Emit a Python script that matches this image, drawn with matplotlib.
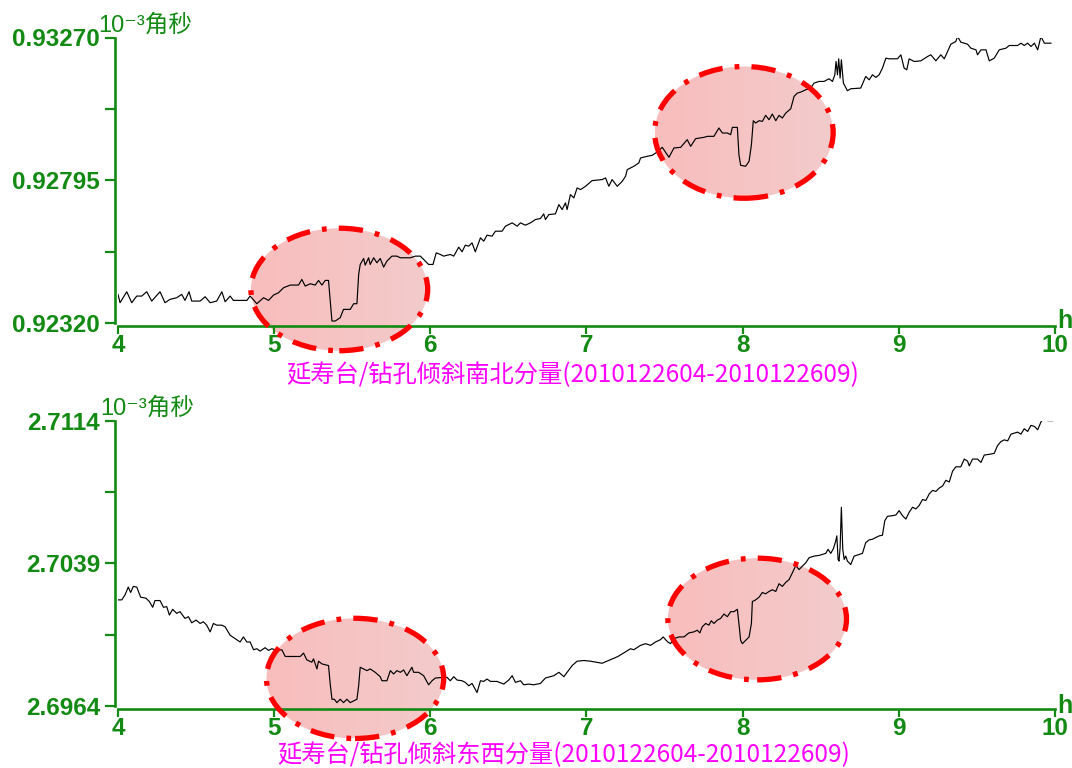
import matplotlib
matplotlib.use("Agg")
import matplotlib.pyplot as plt
import numpy as np
from matplotlib.patches import Ellipse

GREEN = "#138a13"
MAGENTA = "#ff00ff"
NUM_FONT = ["Liberation Sans", "DejaVu Sans", "Noto Sans CJK SC"]
CJK_FONT = ["Noto Sans CJK SC", "DejaVu Sans"]

# --- borehole tilt, north-south component (10^-3 arc-second) ---
ns_hours = [
    4.000, 4.013, 4.056, 4.088, 4.120, 4.152, 4.184, 4.216, 4.269, 4.301,
    4.333, 4.376, 4.408, 4.429, 4.455, 4.472, 4.526, 4.558, 4.590, 4.632,
    4.665, 4.686, 4.718, 4.739, 4.825, 4.846, 4.889, 4.932, 4.964, 4.996,
    5.028, 5.060, 5.103, 5.156, 5.177, 5.199, 5.231, 5.263, 5.284, 5.306,
    5.327, 5.348, 5.370, 5.391, 5.423, 5.444, 5.487, 5.509, 5.530, 5.541,
    5.551, 5.573, 5.583, 5.605, 5.615, 5.637, 5.658, 5.679, 5.701, 5.722,
    5.754, 5.786, 5.808, 5.872, 5.904, 5.936, 5.968, 5.989, 6.017, 6.038,
    6.064, 6.085, 6.128, 6.150, 6.182, 6.203, 6.224, 6.246, 6.267, 6.288,
    6.321, 6.342, 6.363, 6.395, 6.417, 6.459, 6.481, 6.524, 6.556, 6.577,
    6.609, 6.641, 6.673, 6.705, 6.726, 6.737, 6.759, 6.801, 6.823, 6.844,
    6.865, 6.876, 6.897, 6.919, 6.940,
    6.962, 6.994, 7.036, 7.100, 7.122, 7.143, 7.164, 7.197, 7.229, 7.250,
    7.261, 7.303, 7.335, 7.346, 7.389, 7.421, 7.453, 7.485, 7.528, 7.560,
    7.603, 7.645, 7.667, 7.699, 7.752, 7.774, 7.816, 7.848, 7.870, 7.902,
    7.923, 7.934, 7.966, 7.976, 7.987, 8.019, 8.041, 8.056, 8.068, 8.083,
    8.105, 8.126, 8.147, 8.169, 8.190, 8.212, 8.233, 8.254, 8.276, 8.308,
    8.329, 8.350, 8.372, 8.404, 8.436, 8.457, 8.489, 8.521, 8.553, 8.575,
    8.590, 8.598, 8.607, 8.615, 8.624, 8.632, 8.645, 8.671, 8.692, 8.756,
    8.788, 8.810, 8.831, 8.853, 8.874, 8.895, 8.917, 8.938, 8.991, 9.013,
    9.034, 9.051, 9.066, 9.098, 9.141, 9.184, 9.205, 9.237, 9.269, 9.291,
    9.312, 9.333, 9.365, 9.376, 9.397, 9.440, 9.461, 9.494, 9.504, 9.526,
    9.558, 9.579, 9.611, 9.643, 9.686, 9.707, 9.761, 9.782, 9.803, 9.825,
    9.846, 9.868, 9.889, 9.910, 9.932, 9.974,
]
ns_values = [
    0.924152, 0.923875, 0.924240, 0.923875, 0.924096, 0.924096, 0.924240, 0.923930, 0.924240, 0.923875,
    0.923986, 0.924041, 0.924152, 0.923952, 0.924240, 0.923930, 0.923930, 0.924074, 0.923875, 0.923930,
    0.924240, 0.923908, 0.924096, 0.923952, 0.923952, 0.924096, 0.923842, 0.924041, 0.923952, 0.924130,
    0.924207, 0.924373, 0.924462, 0.924462, 0.924650, 0.924429, 0.924506, 0.924462, 0.924617, 0.924462,
    0.924617, 0.924617, 0.923266, 0.923266, 0.923377, 0.923653, 0.923653, 0.923842, 0.923842, 0.924816,
    0.925148, 0.925348, 0.925126, 0.925370, 0.925148, 0.925370, 0.925204, 0.925348, 0.925060, 0.925259,
    0.925425, 0.925425, 0.925370, 0.925370, 0.925425, 0.925425, 0.925259, 0.925148, 0.925148, 0.925536,
    0.925480, 0.925425, 0.925480, 0.925425, 0.925724, 0.925569, 0.925790, 0.925757, 0.925868, 0.925569,
    0.926034, 0.925923, 0.926123, 0.926089, 0.926255, 0.926255, 0.926422, 0.926532, 0.926422, 0.926532,
    0.926455, 0.926532, 0.926643, 0.926676, 0.926831, 0.926643, 0.926809, 0.926831, 0.927141, 0.926975,
    0.927197, 0.926975, 0.927473, 0.927363, 0.927695,
    0.927639, 0.927750, 0.927938, 0.927972, 0.928027, 0.927750, 0.927972, 0.927750, 0.927916, 0.928082,
    0.928304, 0.928415, 0.928525, 0.928691, 0.928747, 0.928780, 0.928891, 0.929046, 0.928714, 0.929024,
    0.929046, 0.929300, 0.929079, 0.929334, 0.929378, 0.929411, 0.929411, 0.929688, 0.929522, 0.929522,
    0.929466, 0.929710, 0.929710, 0.928802, 0.928448, 0.928415, 0.928581, 0.929134, 0.929931, 0.929854,
    0.929931, 0.929909, 0.930109, 0.929965, 0.930153, 0.929931, 0.930109, 0.930020, 0.930186, 0.930330,
    0.930740, 0.930850, 0.930884, 0.930961, 0.931017, 0.931183, 0.931238, 0.931238, 0.931327, 0.931238,
    0.931459, 0.931902, 0.931459, 0.931991, 0.931349, 0.931958, 0.931183, 0.930928, 0.930994, 0.931017,
    0.931404, 0.931293, 0.931459, 0.931371, 0.931459, 0.931681, 0.932013, 0.931991, 0.931991, 0.932124,
    0.931681, 0.931626, 0.931991, 0.931902, 0.931924, 0.932068, 0.932124, 0.931924, 0.932124, 0.931991,
    0.932234, 0.932478, 0.932567, 0.932733, 0.932545, 0.932478, 0.932345, 0.932290, 0.932124, 0.932290,
    0.932290, 0.931924, 0.932013, 0.932290, 0.932345, 0.932434, 0.932434, 0.932511, 0.932434, 0.932511,
    0.932401, 0.932511, 0.932290, 0.932733, 0.932511, 0.932511,
]

# --- borehole tilt, east-west component (10^-3 arc-second) ---
ew_hours = [
    4.000, 4.024, 4.045, 4.066, 4.081, 4.098, 4.120, 4.145, 4.179, 4.201,
    4.222, 4.237, 4.269, 4.291, 4.312, 4.329, 4.350, 4.376, 4.397, 4.429,
    4.451, 4.472, 4.500, 4.526, 4.547, 4.568, 4.590, 4.611, 4.632, 4.665,
    4.686, 4.718, 4.750, 4.782, 4.803, 4.825, 4.846, 4.868, 4.889, 4.910,
    4.942, 4.964, 4.985, 5.017, 5.049, 5.071, 5.113, 5.167, 5.188, 5.209,
    5.241, 5.252, 5.274, 5.284, 5.306, 5.348, 5.359, 5.370, 5.385, 5.402,
    5.423, 5.444, 5.466, 5.487, 5.530, 5.541, 5.551, 5.573, 5.594, 5.615,
    5.647, 5.679, 5.690, 5.722, 5.744, 5.765, 5.786, 5.808, 5.829, 5.850,
    5.882, 5.893, 5.925, 5.957, 5.989, 6.011, 6.032, 6.085, 6.107, 6.128,
    6.150, 6.171, 6.203, 6.224, 6.246, 6.267, 6.299, 6.321, 6.342, 6.363,
    6.385, 6.427, 6.470, 6.502, 6.524, 6.545, 6.577, 6.598, 6.630, 6.662,
    6.705, 6.737, 6.769, 6.791, 6.823, 6.855, 6.876, 6.908, 6.940, 6.983,
    7.026, 7.100, 7.200,
    7.282, 7.303, 7.346, 7.378, 7.410, 7.442, 7.474, 7.491, 7.506, 7.521,
    7.538, 7.560, 7.592, 7.624, 7.656, 7.688, 7.709, 7.726, 7.741, 7.763,
    7.784, 7.799, 7.816, 7.838, 7.859, 7.880, 7.902, 7.923, 7.944, 7.966,
    7.976, 7.987, 7.998, 8.019, 8.041, 8.056, 8.062, 8.083, 8.105, 8.126,
    8.147, 8.169, 8.190, 8.212, 8.233, 8.254, 8.276, 8.297, 8.318, 8.340,
    8.361, 8.382, 8.404, 8.425, 8.457, 8.489, 8.511, 8.532, 8.547, 8.564,
    8.581, 8.596, 8.603, 8.611, 8.617, 8.624, 8.632, 8.641, 8.650, 8.660,
    8.671, 8.692, 8.714, 8.746, 8.767, 8.788, 8.810, 8.831, 8.853, 8.874,
    8.895, 8.910, 8.927, 8.959, 8.981, 9.002, 9.023, 9.045, 9.066, 9.088,
    9.109, 9.130, 9.152, 9.173, 9.195, 9.216, 9.237, 9.259, 9.280, 9.301,
    9.323, 9.344, 9.365, 9.397, 9.419, 9.440, 9.451, 9.472, 9.504, 9.526,
    9.547, 9.579, 9.611, 9.632, 9.654, 9.675, 9.697, 9.718, 9.739, 9.761,
    9.782, 9.803, 9.825, 9.846, 9.868, 9.889, 9.910, 9.932, 9.953, 9.985,
]
ew_values = [
    2.701985, 2.701985, 2.702251, 2.702659, 2.702375, 2.702694, 2.702659, 2.702127, 2.702074, 2.701897,
    2.701595, 2.701950, 2.701950, 2.701595, 2.701631, 2.701187, 2.701489, 2.701276, 2.701365, 2.701010,
    2.701099, 2.700780, 2.700921, 2.700744, 2.700833, 2.700655, 2.700301, 2.700744, 2.700655, 2.700655,
    2.700567, 2.700124, 2.699946, 2.699769, 2.700035, 2.699769, 2.699769, 2.699361, 2.699414, 2.699290,
    2.699468, 2.699326, 2.699414, 2.699326, 2.699361, 2.699007, 2.699007, 2.699007, 2.699184, 2.698829,
    2.698705, 2.698882, 2.698351, 2.698758, 2.698616, 2.698528, 2.697553, 2.696755, 2.696755, 2.696578,
    2.696755, 2.696578, 2.696755, 2.696578, 2.696755, 2.697464, 2.698439, 2.698351, 2.698262, 2.698351,
    2.698173, 2.697943, 2.697730, 2.697730, 2.698262, 2.698085, 2.698262, 2.698173, 2.698297, 2.697996,
    2.698439, 2.698173, 2.698173, 2.697996, 2.697517, 2.697730, 2.697872, 2.697907, 2.697907, 2.697730,
    2.697943, 2.697765, 2.697730, 2.697641, 2.697464, 2.697588, 2.697109, 2.697730, 2.697694, 2.697819,
    2.697694, 2.697694, 2.697553, 2.697765, 2.697996, 2.697641, 2.697730, 2.697517, 2.697553, 2.697517,
    2.697588, 2.697872, 2.697943, 2.697996, 2.698173, 2.697943, 2.698173, 2.698528, 2.698758, 2.698794,
    2.698758, 2.698650, 2.699000,
    2.699414, 2.699361, 2.699592, 2.699680, 2.699592, 2.699769, 2.699893, 2.700035, 2.699893, 2.699769,
    2.699680, 2.699946, 2.700035, 2.700035, 2.700247, 2.700301, 2.700389, 2.700247, 2.700567, 2.700744,
    2.700655, 2.700886, 2.700744, 2.700921, 2.701010, 2.701241, 2.701099, 2.701365, 2.701365, 2.701489,
    2.700744, 2.699857, 2.699680, 2.699857, 2.700035, 2.700744, 2.701897, 2.701985, 2.702127, 2.702375,
    2.702305, 2.702429, 2.702517, 2.702429, 2.702836, 2.702694, 2.702907, 2.703049, 2.703404, 2.703793,
    2.703581, 2.703758, 2.703935, 2.704201, 2.704290, 2.704325, 2.704379, 2.704432, 2.704645, 2.704432,
    2.704680, 2.705088, 2.705354, 2.704113, 2.704024, 2.704734, 2.706861, 2.704645, 2.704113, 2.704290,
    2.704024, 2.703847, 2.704290, 2.704379, 2.704432, 2.705000, 2.705141, 2.705177, 2.705265, 2.705354,
    2.705389, 2.706152, 2.706382, 2.706418, 2.706453, 2.706684, 2.706418, 2.706240, 2.706595, 2.706861,
    2.706772, 2.706950, 2.707269, 2.707216, 2.707570, 2.707748, 2.707694, 2.707872, 2.707978, 2.708279,
    2.708191, 2.708758, 2.708989, 2.708989, 2.709397, 2.709290, 2.709042, 2.709397, 2.709397, 2.709219,
    2.709609, 2.709645, 2.709698, 2.710106, 2.710318, 2.710407, 2.710354, 2.710708, 2.710762, 2.710815,
    2.710708, 2.710992, 2.710850, 2.711170, 2.711116, 2.710939, 2.711347, 2.711595, 2.711418, 2.711418,
]

ns_yticks = [0.92320, 0.92795, 0.93270]
ew_yticks = [2.6964, 2.7039, 2.7114]
hour_ticks = [4, 5, 6, 7, 8, 9, 10]

# highlighted windows: (centre hour, centre value, width in hours, height in value units)
ns_marks = [(5.417, 0.924316, 1.132, 0.004076), (8.008, 0.929543, 1.143, 0.004385)]
ew_marks = [(5.518, 2.697853, 1.135, 0.006326), (8.093, 2.700979, 1.144, 0.006405)]

ns_title = "延寿台/钻孔倾斜南北分量(2010122604-2010122609)"
ew_title = "延寿台/钻孔倾斜东西分量(2010122604-2010122609)"
unit_label = "10⁻³角秒"

W, H = 1072, 768
fig = plt.figure(figsize=(W / 100, H / 100), dpi=100)
fig.patch.set_facecolor("white")

# pixel-space layers behind and in front of the panels
back = fig.add_axes([0, 0, 1, 1], zorder=0)
front = fig.add_axes([0, 0, 1, 1], zorder=3)
for layer in (back, front):
    layer.set_xlim(0, W)
    layer.set_ylim(0, H)
    layer.axis("off")
    layer.patch.set_alpha(0)


def make_panel(rect, hours, values, yticks, ylabel_fmt):
    ax = fig.add_axes(rect, zorder=1)
    ax.patch.set_alpha(0)
    ax.plot(hours, values, color="black", lw=0.85)
    ax.set_xlim(4, 10)
    ax.set_ylim(yticks[0], yticks[-1])
    for side in ("top", "right"):
        ax.spines[side].set_visible(False)
    for side in ("left", "bottom"):
        ax.spines[side].set_color(GREEN)
        ax.spines[side].set_linewidth(1.9)
        ax.spines[side].set_position(("outward", 2))
    ax.set_xticks(hour_ticks)
    ax.set_xticklabels([str(h) for h in hour_ticks])
    full = np.linspace(yticks[0], yticks[-1], 5)
    ax.set_yticks(full)
    ax.set_yticklabels([ylabel_fmt.format(v) if i % 2 == 0 else "" for i, v in enumerate(full)])
    ax.tick_params(colors=GREEN, width=1.6, length=7, labelsize=17.5, pad=4)
    ax.tick_params(axis="x", length=6, pad=0)
    for lab in ax.get_xticklabels() + ax.get_yticklabels():
        lab.set_family(NUM_FONT)
        lab.set_weight("bold")
        lab.set_color(GREEN)
    return ax


def highlight(ax, hour, value, width, height):
    to_px = ax.transData
    cx, cy = to_px.transform((hour, value))
    x0, y0 = to_px.transform((hour - width / 2, value - height / 2))
    x1, y1 = to_px.transform((hour + width / 2, value + height / 2))
    w, h = x1 - x0, y1 - y0
    shape = Ellipse((cx, cy), w, h, transform=back.transData, facecolor="none", edgecolor="none")
    back.add_patch(shape)
    grad = np.linspace(0, 1, 64)
    left = np.array([249, 189, 189]) / 255
    right = np.array([243, 203, 203]) / 255
    img = (left[None, :] * (1 - grad[:, None]) + right[None, :] * grad[:, None])[None, :, :]
    im = back.imshow(img, extent=[cx - w / 2, cx + w / 2, cy - h / 2, cy + h / 2],
                     aspect="auto", interpolation="bilinear", zorder=1)
    im.set_clip_path(shape)
    front.add_patch(Ellipse((cx, cy), w, h, transform=front.transData, fill=False,
                            edgecolor="#ff0000", lw=3.8,
                            linestyle=(0, (4.6, 2.3, 0.9, 2.3))))


top_rect = [118 / W, 1 - 323 / H, (1055 - 118) / W, (323 - 37.5) / H]
bot_rect = [118 / W, 1 - 706 / H, (1055 - 118) / W, (706 - 421) / H]
ax_ns = make_panel(top_rect, ns_hours, ns_values, ns_yticks, "{:.5f}")
ax_ew = make_panel(bot_rect, ew_hours, ew_values, ew_yticks, "{:.4f}")

for ax, marks in ((ax_ns, ns_marks), (ax_ew, ew_marks)):
    for m in marks:
        highlight(ax, *m)
back.set_xlim(0, W)
back.set_ylim(0, H)

# unit labels, axis end marks and captions
fig.text(98 / W, 1 - 32 / H, unit_label, color=GREEN, fontsize=17, family=NUM_FONT,
         ha="left", va="baseline")
fig.text(100 / W, 1 - 415 / H, unit_label, color=GREEN, fontsize=17, family=NUM_FONT,
         ha="left", va="baseline")
fig.text(1057 / W, 1 - 328 / H, "h", color=GREEN, fontsize=18, family=NUM_FONT,
         weight="bold", ha="left", va="baseline")
fig.text(1057 / W, 1 - 713 / H, "h", color=GREEN, fontsize=18, family=NUM_FONT,
         weight="bold", ha="left", va="baseline")
fig.text(573 / W, 1 - 375 / H, ns_title, color=MAGENTA, fontsize=17.5, family=CJK_FONT,
         ha="center", va="center")
fig.text(564 / W, 1 - 755 / H, ew_title, color=MAGENTA, fontsize=17.5, family=CJK_FONT,
         ha="center", va="center")

fig.savefig("out.png", dpi=100)
